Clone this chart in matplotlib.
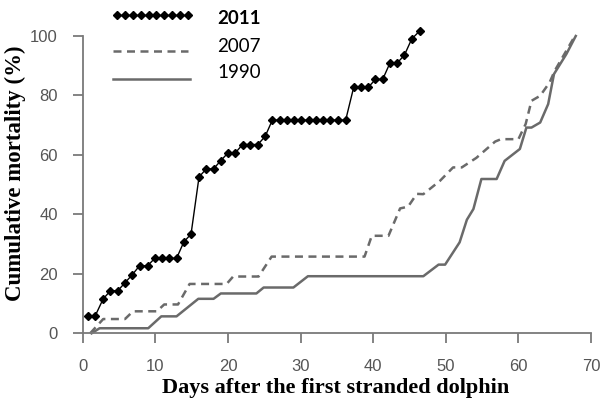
import matplotlib
matplotlib.use("Agg")
import matplotlib.pyplot as plt
from matplotlib.lines import Line2D
import numpy as np

plt.rcParams["font.family"] = ["Liberation Sans", "DejaVu Sans"]

# ---- data ----
days_2011 = [0.7, 1.7, 2.8, 3.8, 4.8, 5.8, 6.8, 7.8, 8.9, 9.9, 10.9, 11.9, 12.9, 13.9, 14.9,
             16.0, 17.0, 18.0, 19.0, 20.0, 21.0, 22.0, 23.0, 24.1, 25.1,
             26.1, 27.1, 28.1, 29.1, 30.1, 31.1, 32.1, 33.1, 34.1, 35.1, 36.2,
             37.3, 38.3, 39.3, 40.3, 41.3, 42.3, 43.3, 44.3, 45.3, 46.4]
mort_2011 = [5.9, 5.9, 11.6, 14.3, 14.3, 17.0, 19.7, 22.7, 22.7, 25.2, 25.2, 25.2, 25.2, 30.7, 33.4,
             52.6, 55.3, 55.3, 58.1, 60.7, 60.7, 63.5, 63.5, 63.5, 66.2,
             71.7, 71.7, 71.7, 71.7, 71.7, 71.7, 71.7, 71.7, 71.7, 71.7, 71.7,
             82.7, 82.7, 82.7, 85.4, 85.4, 90.9, 90.9, 93.6, 99.0, 101.7]

days_2007 = [1.0, 2.8, 5.8, 6.9, 10.2, 11.2, 13.1, 14.7, 19.8, 20.7, 24.2, 26.0, 38.8, 39.8,
             42.1, 43.7, 44.8, 46.0, 46.9, 49.2, 51.0, 52.2, 54.2, 56.8, 57.6, 60.0, 61.0,
             61.8, 63.0, 64.3, 65.0, 67.8]
mort_2007 = [0, 4.8, 4.8, 7.4, 7.4, 9.7, 9.7, 16.6, 16.6, 19.1, 19.1, 25.8, 25.8, 32.8,
             32.8, 42.0, 42.6, 46.9, 46.8, 51.3, 55.8, 55.8, 59.0, 64.5, 65.3, 65.3, 70.4,
             78.2, 79.9, 84.4, 88.3, 100.1]

days_1990 = [1.2, 2.3, 9.0, 10.8, 12.9, 15.9, 18.0, 19.0, 23.9, 24.9, 29.0, 31.0, 46.9, 49.0,
             49.9, 51.9, 52.9, 53.8, 54.9, 57.0, 58.1, 60.2, 61.1, 61.8, 63.0, 64.1, 64.9,
             66.6, 67.9]
mort_1990 = [0, 1.7, 1.7, 5.7, 5.7, 11.6, 11.6, 13.4, 13.4, 15.4, 15.4, 19.2, 19.2, 23.1,
             23.1, 30.6, 38.2, 41.8, 51.9, 51.9, 58.0, 62.0, 69.2, 69.2, 70.9, 77.1, 87.2,
             93.9, 100.0]

series_labels = ["2011", "2007", "1990"]
x_ticks = [0, 10, 20, 30, 40, 50, 60, 70]
y_ticks = [0, 20, 40, 60, 80, 100]

GRAY = "#6a6a6a"
AXGRAY = "#7a7a7a"

fig = plt.figure(figsize=(6.0, 4.01), dpi=100)
ax = fig.add_axes([82.9 / 600, (401 - 333.3) / 401, (591 - 82.9) / 600, (333.3 - 36) / 401])

ax.plot(days_1990, mort_1990, color=GRAY, lw=1.8, clip_on=False, zorder=2)
ax.plot(days_2007, mort_2007, color=GRAY, lw=1.8, ls=(0, (3.2, 2.2)), clip_on=False, zorder=2)
ax.plot(days_2011, mort_2011, color="black", lw=1.0, marker="D", ms=4.0,
        clip_on=False, zorder=3)

ax.set_xlim(0, 70)
ax.set_ylim(0, 100)
ax.set_xticks(x_ticks)
ax.set_yticks(y_ticks)
for s in ["top", "right"]:
    ax.spines[s].set_visible(False)
for s in ["left", "bottom"]:
    ax.spines[s].set_color(AXGRAY)
    ax.spines[s].set_linewidth(1.3)
ax.tick_params(axis="both", direction="out", length=7.5, width=1.3, color=AXGRAY,
               labelcolor="#555555", labelsize=12)
ax.tick_params(axis="x", pad=11)
ax.tick_params(axis="y", pad=10.5)

fig.text(336 / 600, 1 - 393 / 401, "Days after the first stranded dolphin", ha="center",
         va="baseline", family="Liberation Serif", fontweight="bold", fontsize=16)
fig.text(15 / 600, 1 - 173 / 401, "Cumulative mortality (%)", ha="center", va="center",
         rotation=90, family="Liberation Serif", fontweight="bold", fontsize=16.5)

# legend drawn in figure pixels
def fy(py):
    return 1 - py / 401

leg_y = [15, 51, 79]
txt_y = [19, 46, 73]
mx = np.linspace(117, 188, 10) / 600
fig.add_artist(Line2D(mx, [fy(leg_y[0])] * len(mx), color="black", lw=1.0, marker="D", ms=4.0,
                      transform=fig.transFigure))
fig.add_artist(Line2D([113 / 600, 188 / 600], [fy(leg_y[1])] * 2, color=GRAY, lw=1.8,
                      ls=(0, (3.2, 2.2)), transform=fig.transFigure))
fig.add_artist(Line2D([113 / 600, 190 / 600], [fy(leg_y[2])] * 2, color=GRAY, lw=1.8,
                      transform=fig.transFigure))
for lbl, ty, w in zip(series_labels, txt_y, ["bold", "normal", "normal"]):
    fig.text(217 / 600, fy(ty), lbl, ha="left", va="center", fontsize=13.5, fontweight=w,
             family="Lato", color="black")

fig.savefig("out.png", dpi=100)
